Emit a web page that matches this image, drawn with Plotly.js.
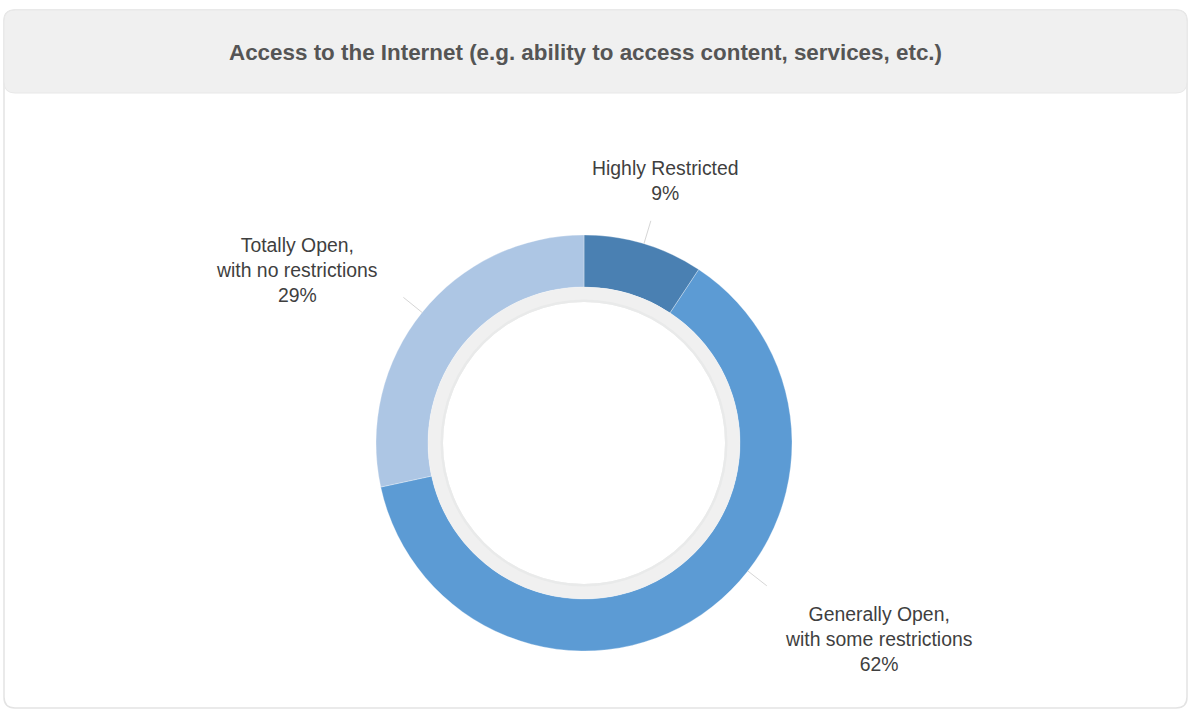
<!DOCTYPE html>
<html>
<head>
<meta charset="utf-8">
<script src="https://cdn.plot.ly/plotly-3.0.1.min.js"></script>
<style>
  html, body { margin: 0; padding: 0; background: #ffffff; }
  #chart { width: 1192px; height: 711px; }
</style>
</head>
<body>
<div id="chart"></div>
<script>
// ---- data ----
const categories = ['Highly Restricted', 'Generally Open,<br>with some restrictions', 'Totally Open,<br>with no restrictions'];
const values = [9.3, 62.3, 28.4];
const sliceColors = ['#4a80b2', '#5c9bd4', '#adc6e4'];
const chartTitle = 'Access to the Internet (e.g. ability to access content, services, etc.)';

// ---- geometry / style (layout, not data) ----
const W = 1192, H = 711;
const CX = 584, CY = 443, R = 208;       // donut centre & outer radius (px)
const R_IN = 156, R_SHADOW = 141;        // ring inner edge and shadow inner edge
const labelCenters = [[665, 180], [878, 639], [297, 270]]; // label block centres (px)
const connectorAngleOverride = { 1: 128 }; // degrees clockwise from 12 o'clock
const FONT = '"Liberation Sans", Arial, Helvetica, sans-serif';

const px = x => x / W;
const py = y => 1 - y / H;

function domainFor(r) {
  return { x: [px(CX - r), px(CX + r)], y: [py(CY + r), py(CY - r)] };
}

const total = values.reduce((a, b) => a + b, 0);

// whole-number percentages that sum to 100 (largest remainder)
function roundedPercents(vals) {
  const raw = vals.map(v => v / total * 100);
  const fl = raw.map(Math.floor);
  let left = 100 - fl.reduce((a, b) => a + b, 0);
  const order = raw.map((r, i) => [r - fl[i], i]).sort((a, b) => b[0] - a[0]);
  for (let k = 0; k < left; k++) fl[order[k][1]] += 1;
  return fl;
}
const pcts = roundedPercents(values);

const traces = [
  {
    type: 'pie',
    values: values,
    labels: categories,
    sort: false,
    direction: 'clockwise',
    rotation: 0,
    hole: R_IN / R,
    marker: { colors: sliceColors, line: { width: 0.5, color: 'rgba(255,255,255,0.6)' } },
    textinfo: 'none',
    hoverinfo: 'label+percent',
    showlegend: false,
    domain: domainFor(R)
  },
  {
    type: 'pie',
    values: [1],
    labels: ['shadow'],
    sort: false,
    hole: R_SHADOW / R_IN,
    marker: { colors: ['#f0f0f0'], line: { width: 0 } },
    textinfo: 'none',
    hoverinfo: 'skip',
    showlegend: false,
    domain: domainFor(R_IN)
  },
  {
    type: 'pie',
    values: [1],
    labels: ['shadow2'],
    sort: false,
    hole: R_SHADOW / (R_SHADOW + 2.5),
    marker: { colors: ['#e9eaea'], line: { width: 0 } },
    textinfo: 'none',
    hoverinfo: 'skip',
    showlegend: false,
    domain: domainFor(R_SHADOW + 2.5)
  }
];

// ---- card shapes ----
function roundedRect(x0, y0, x1, y1, r) {
  const X = v => px(v), Y = v => py(v);
  return 'M ' + X(x0 + r) + ' ' + Y(y0) +
    ' L ' + X(x1 - r) + ' ' + Y(y0) +
    ' Q ' + X(x1) + ' ' + Y(y0) + ' ' + X(x1) + ' ' + Y(y0 + r) +
    ' L ' + X(x1) + ' ' + Y(y1 - r) +
    ' Q ' + X(x1) + ' ' + Y(y1) + ' ' + X(x1 - r) + ' ' + Y(y1) +
    ' L ' + X(x0 + r) + ' ' + Y(y1) +
    ' Q ' + X(x0) + ' ' + Y(y1) + ' ' + X(x0) + ' ' + Y(y1 - r) +
    ' L ' + X(x0) + ' ' + Y(y0 + r) +
    ' Q ' + X(x0) + ' ' + Y(y0) + ' ' + X(x0 + r) + ' ' + Y(y0) + ' Z';
}

const shapes = [
  { type: 'path', xref: 'paper', yref: 'paper', layer: 'below',
    path: roundedRect(4, 10, 1187, 708, 11),
    fillcolor: '#ffffff', line: { color: '#e3e3e3', width: 1.5 } },
  { type: 'path', xref: 'paper', yref: 'paper', layer: 'below',
    path: roundedRect(4, 10, 1187, 93, 11),
    fillcolor: '#f0f0f0', line: { color: '#e8e8e8', width: 1 } }
];

// connectors from data mid-angles
let cum = 0;
const annotations = [];
values.forEach((v, i) => {
  const mid = (cum + v / 2) / total * 360;
  cum += v;
  const ang = (connectorAngleOverride[i] !== undefined ? connectorAngleOverride[i] : mid) * Math.PI / 180;
  const s = Math.sin(ang), c = Math.cos(ang);
  shapes.push({
    type: 'line', xref: 'paper', yref: 'paper',
    x0: px(CX + R * s), y0: py(CY - R * c),
    x1: px(CX + (R + 24) * s), y1: py(CY - (R + 24) * c),
    line: { color: '#d6d6d6', width: 1 }
  });
  annotations.push({
    xref: 'paper', yref: 'paper',
    x: px(labelCenters[i][0]), y: py(labelCenters[i][1]),
    xanchor: 'center', yanchor: 'middle',
    text: categories[i] + '<br>' + pcts[i] + '%',
    showarrow: false, align: 'center',
    font: { family: FONT, size: 19.4, color: '#3f3f3f' }
  });
});

const layout = {
  width: W, height: H,
  margin: { l: 0, r: 0, t: 0, b: 0 },
  paper_bgcolor: '#ffffff',
  plot_bgcolor: '#ffffff',
  showlegend: false,
  title: {
    text: '<b>' + chartTitle + '</b>',
    x: px(585.5), xanchor: 'center', xref: 'paper',
    y: py(52), yanchor: 'middle', yref: 'paper',
    font: { family: FONT, size: 22.4, color: '#555555' }
  },
  shapes: shapes,
  annotations: annotations
};

Plotly.newPlot('chart', traces, layout, { displayModeBar: false, staticPlot: true });
</script>
</body>
</html>
